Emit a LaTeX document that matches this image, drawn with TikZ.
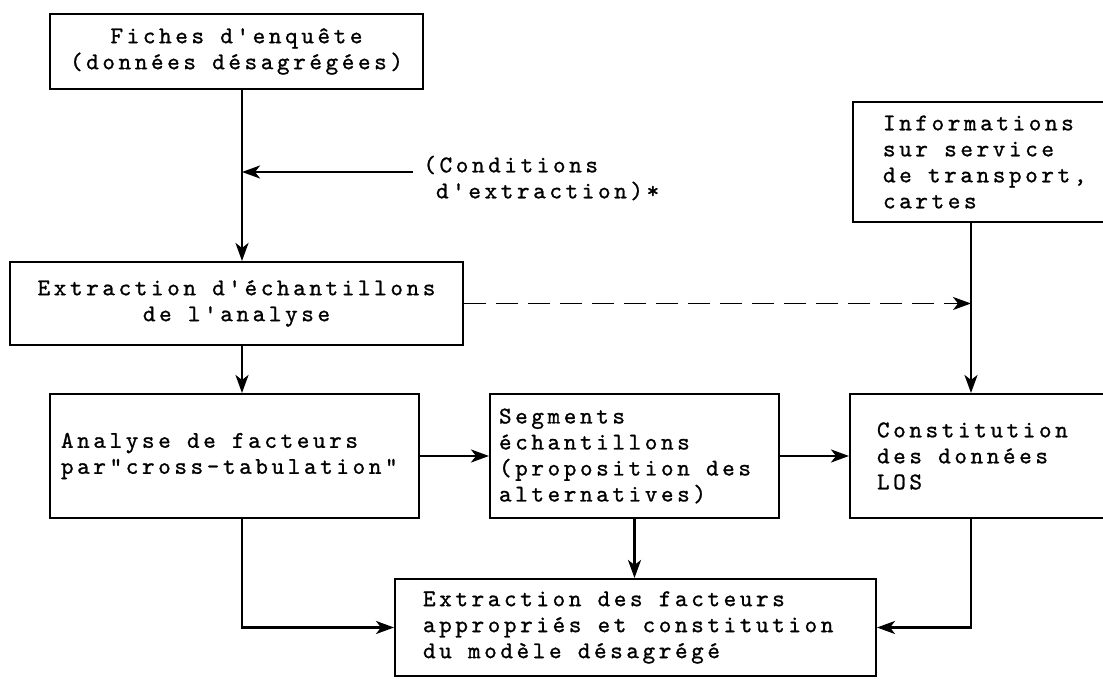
\documentclass[tikz,border=0pt]{standalone}
\usepackage{fontspec}
\newfontfamily\typew{lmmono10-regular.otf}[LetterSpace=15, FakeBold=1]
\usetikzlibrary{arrows.meta}

\tikzset{
  box/.style={draw, line width=1pt, inner sep=0pt, font=\typew\fontsize{12}{13}\selectfont},
  lbl/.style={inner sep=0pt, align=flush left, font=\typew\fontsize{12}{13}\selectfont},
  flow/.style={-{Stealth[length=9pt,width=6.5pt,inset=2.5pt]}, line width=1.3pt},
  dashflow/.style={flow, line width=0.8pt, dash pattern=on 11pt off 5pt}
}

\begin{document}
\begin{tikzpicture}[x=0.5pt, y=-0.5pt]
  \useasboundingbox (0,0) rectangle (1103,683);

  % boxes
  \node[box, align=center, minimum width=186.5pt, minimum height=37.5pt] (fiches) at (236.5,51.5)
    {Fiches d'enquête\\(données désagrégées)};
  \node[box, align=flush left, inner xsep=15pt, text width=106pt, minimum height=60pt] (infos) at (989,162)
    {\mbox{Informations}\\\mbox{sur service}\\\mbox{de transport,}\\\mbox{cartes}};
  \node[box, align=center, minimum width=226.5pt, minimum height=41.5pt] (extraction) at (236.5,303.5)
    {Extraction d'échantillons\\de l'analyse};
  \node[box, align=flush left, inner xsep=5.5pt, text width=173.5pt, minimum height=62pt] (analyse) at (234.5,456)
    {\mbox{Analyse de facteurs}\\\mbox{par"cross-tabulation"}};
  \node[box, align=flush left, inner xsep=4.5pt, text width=135.5pt, minimum height=62pt] (segments) at (634.5,456)
    {\mbox{Segments}\\\mbox{échantillons}\\\mbox{(proposition des}\\\mbox{alternatives)}};
  \node[box, align=flush left, inner xsep=13.5pt, text width=110.5pt, minimum height=62pt] (los) at (987.5,456)
    {\mbox{Constitution}\\\mbox{des données}\\\mbox{LOS}};
  \node[box, align=flush left, inner xsep=14pt, text width=212.5pt, minimum height=48.5pt] (modele) at (635.5,627.5)
    {\mbox{Extraction des facteurs}\\\mbox{appropriés et constitution}\\\mbox{du modèle désagrégé}};

  % side note
  \node[lbl, anchor=west] (cond) at (423,178) {(Conditions\\\hphantom{(}d'extraction)*};

  \coordinate (spine) at (242,0);
  \coordinate (drop) at (971,0);
  \coordinate (condtail) at (413,172);

  % arrows
  \draw[flow] (fiches.south -| spine) -- (extraction.north -| spine);
  \draw[flow] (condtail) -- (condtail -| spine);
  \draw[dashflow] (extraction.east) -- (extraction.east -| drop);
  \draw[flow] (infos.south -| drop) -- (los.north -| drop);
  \draw[flow] (extraction.south -| spine) -- (analyse.north -| spine);
  \draw[flow] (analyse.east) -- (segments.west);
  \draw[flow] (segments.east) -- (los.west);
  \draw[flow] (analyse.south -| spine) |- (modele.west);
  \draw[flow] (segments.south) -- (segments.south |- modele.north);
  \draw[flow] (los.south -| drop) |- (modele.east);
\end{tikzpicture}
\end{document}
